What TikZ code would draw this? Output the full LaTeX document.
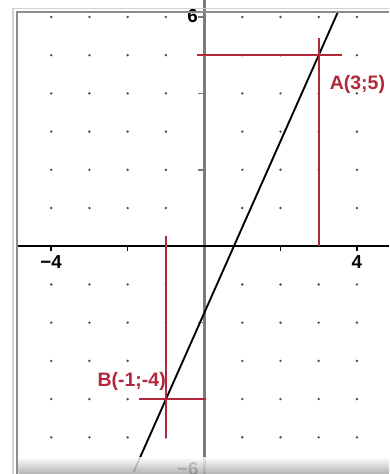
\documentclass[tikz,border=0pt]{standalone}
\usepackage{fontspec}
\setsansfont{Liberation Sans}
\usetikzlibrary{positioning}
\definecolor{ptRed}{HTML}{B3273B}
\definecolor{axGray}{HTML}{7A7A7A}
\definecolor{frGray}{HTML}{8C8C8C}
\begin{document}
\begin{tikzpicture}[
  font=\sffamily\bfseries,
  pt/.style={ptRed, line width=1.5pt},
  lbl/.style={text=ptRed, font=\sffamily\bfseries\fontsize{14.5}{16}\selectfont, inner sep=1pt},
  num/.style={font=\sffamily\bfseries\fontsize{14}{16}\selectfont, inner sep=1pt},
  tick/.style={line width=1.2pt}
]
\useasboundingbox (-5.34,-5.96) rectangle (4.84,6.444);
\coordinate (O) at (0,0);
\coordinate (A) at (3,5);
\coordinate (B) at (-1,-4);
% grid dots
\foreach \x in {-4,...,-1,1,2,...,4}
  \foreach \y in {-5,...,-1,1,2,...,6}
    \fill[black!70] (\x,\y) circle (1pt);
% axes
\draw[axGray, line width=2.2pt] (0,6.444) -- (0,-5.96);
\draw[black, line width=1.8pt] (-4.9,0) -- (4.84,0);
\foreach \x in {-4,-2,2,4}
  \draw[tick] (\x,0) -- (\x,-0.13);
\foreach \y in {6,4,2,-2,-4}
  \draw[tick, axGray] (-0.16,\y) -- (0,\y);
\node[num, anchor=north] (xm4) at (-4,-0.2) {−4};
\node[num, anchor=north] (xp4) at (4,-0.2) {4};
\node[num, anchor=east] (yp6) at (-0.12,6.02) {6};
\node[num, anchor=east] (ym6) at (-0.1,-5.84) {−6};
% the line through A and B
\coordinate (top) at (3.511,6.15);
\coordinate (bot) at (-1.84,-5.9);
\draw[line width=1.4pt] (bot) -- (top);
% point A
\draw[pt] ([xshift=-3.18cm]A) -- ([xshift=0.6cm]A);
\draw[pt] (A |- O) -- ([yshift=0.45cm]A);
\node[lbl, anchor=west] (labA) at ([xshift=0.25cm,yshift=-0.77cm]A) {A(3;5)};
% point B
\draw[pt] ([yshift=4.27cm]B) -- ([yshift=-1cm]B);
\draw[pt] ([xshift=-0.7cm]B) -- ([xshift=1.05cm]B);
\node[lbl, anchor=east] (labB) at ([xshift=0.04cm,yshift=0.47cm]B) {B(-1;-4)};
% frame
\draw[gray!35, line width=1pt] (-5.0,-5.96) -- (-5.0,6.22) -- (4.84,6.22);
\draw[frGray, line width=1.6pt] (-4.9,-5.96) -- (-4.9,6.14) -- (4.84,6.14);
\shade[top color=white, bottom color=gray!70, opacity=0.85] (-4.85,-5.96) rectangle (4.84,-5.52);
\end{tikzpicture}
\end{document}
